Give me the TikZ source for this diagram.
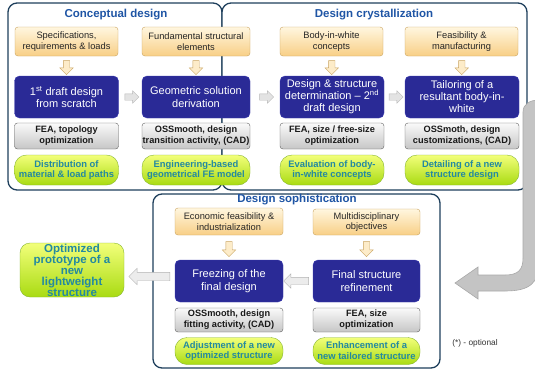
\documentclass[tikz,border=0pt]{standalone}
\usepackage{fontspec}
\setmainfont{Liberation Sans}
\usetikzlibrary{shapes.arrows,calc}
\definecolor{navyC}{HTML}{2A2A96}
\definecolor{navyD}{HTML}{3A3AB0}
\definecolor{frameC}{HTML}{1E3F5C}
\definecolor{titleC}{HTML}{1F55A5}
\definecolor{beigeT}{HTML}{FFF6DF}
\definecolor{beigeB}{HTML}{F8CF86}
\definecolor{beigeD}{HTML}{C9A35E}
\definecolor{greenT}{HTML}{F2FF7A}
\definecolor{greenB}{HTML}{A9DB12}
\definecolor{greenD}{HTML}{86B530}
\definecolor{greenTxt}{HTML}{2389A0}
\definecolor{bandC}{HTML}{C4C4C4}
\definecolor{bandD}{HTML}{A8A8A8}
\begin{document}
\begin{tikzpicture}[x=1pt,y=-1pt,
  frame/.style={draw=frameC, line width=1.3pt, rounded corners=9pt, fill=white},
  ttl/.style={font=\bfseries\fontsize{11.5}{13}\selectfont, text=titleC},
  beige/.style={draw=beigeD, rounded corners=3pt, top color=beigeT, bottom color=beigeB, align=center, inner sep=0pt, font=\fontsize{9.3}{10.5}\selectfont, text=black!85},
  bluebox/.style={draw=navyD, fill=navyC, rounded corners=5pt, text=white, align=center, inner sep=0pt, font=\fontsize{11}{12.5}\selectfont},
  graybox/.style={draw=gray!75!black, rounded corners=3pt, top color=white!96!gray, bottom color=gray!45, align=center, inner sep=0pt, font=\bfseries\fontsize{9.2}{11}\selectfont, text=black!90},
  greenbox/.style={draw=greenD, rounded corners=12pt, top color=greenT, bottom color=greenB, align=center, inner sep=0pt, font=\bfseries\fontsize{9.4}{10.8}\selectfont, text=greenTxt},
  downarr/.style={single arrow, draw=beigeD, fill=beigeT!75!beigeB, shape border rotate=270, minimum height=14pt, single arrow head extend=3.5pt, inner sep=3pt},
  smallarr/.style={single arrow, draw=gray!55, fill=gray!22, minimum height=14pt, single arrow head extend=3pt, inner sep=3pt},
  leftarr/.style={single arrow, draw=gray!60, fill=gray!15, shape border rotate=180, single arrow head extend=4pt, inner sep=4pt}
]
\useasboundingbox (0,0) rectangle (535,370);

% frames
\node[frame, minimum width=214pt, minimum height=187pt] (fr1) at (115,96.5) {};
\node[frame, minimum width=305pt, minimum height=187pt] (fr2) at (374.5,96.5) {};
\node[frame, minimum width=287pt, minimum height=174pt] (fr3) at (296.5,281) {};

\node[ttl] (t1) at (116,15) {Conceptual design};
\node[ttl] (t2) at (374,15) {Design crystallization};
\node[ttl] (t3) at (297,200) {Design sophistication};

% top row inputs
\node[beige, minimum width=103pt, minimum height=29pt] (c1) at (66.5,41.5) {Specifications,\\requirements \& loads};
\node[beige, minimum width=108pt, minimum height=29pt] (c2) at (196,41.5) {Fundamental structural\\elements};
\node[beige, minimum width=103pt, minimum height=29pt] (c3) at (331.5,41.5) {Body-in-white\\concepts};
\node[beige, minimum width=113pt, minimum height=29pt] (c4) at (461.5,41.5) {Feasibility \&\\manufacturing};

% blue boxes
\node[bluebox, minimum width=104pt, minimum height=42pt] (b1) at (66.5,97) {1\textsuperscript{st} draft design\\from scratch};
\node[bluebox, minimum width=108pt, minimum height=42pt] (b2) at (196,97) {Geometric solution\\derivation};
\node[bluebox, minimum width=104pt, minimum height=42pt, font=\fontsize{11}{12}\selectfont] (b3) at (332,97) {Design \& structure\\determination -- 2\textsuperscript{nd}\\draft design};
\node[bluebox, minimum width=114pt, minimum height=42pt, font=\fontsize{11}{12}\selectfont] (b4) at (462,97) {Tailoring of a\\resultant body-in-\\white};

% gray boxes
\node[graybox, minimum width=104pt, minimum height=26pt] (g1) at (66.5,136) {FEA, topology\\optimization};
\node[graybox, minimum width=108pt, minimum height=26pt] (g2) at (196,136) {OSSmooth, design\\transition activity, (CAD)};
\node[graybox, minimum width=104pt, minimum height=26pt] (g3) at (332,136) {FEA, size / free-size\\optimization};
\node[graybox, minimum width=114pt, minimum height=26pt] (g4) at (462,136) {OSSmoth, design\\customizations, (CAD)};

% green pills
\node[greenbox, minimum width=104pt, minimum height=30pt] (r1) at (66.5,170) {Distribution of\\material \& load paths};
\node[greenbox, minimum width=108pt, minimum height=30pt] (r2) at (196,170) {Engineering-based\\geometrical FE model};
\node[greenbox, minimum width=104pt, minimum height=30pt] (r3) at (332,170) {Evaluation of body-\\in-white concepts};
\node[greenbox, minimum width=114pt, minimum height=30pt] (r4) at (462,170) {Detailing of a new\\structure design};

% arrows top
\node[downarr] (d1) at ($(c1.south)!0.5!(b1.north)$) {};
\node[downarr] (d2) at ($(c2.south)!0.5!(b2.north)$) {};
\node[downarr] (d3) at ($(c3.south)!0.5!(b3.north)$) {};
\node[downarr] (d4) at ($(c4.south)!0.5!(b4.north)$) {};
\node[smallarr] (s1) at ($(b1.east)!0.5!(b2.west)$) {};
\node[smallarr] (s2) at ($(b2.east)!0.5!(b3.west)$) {};
\node[smallarr] (s3) at ($(b3.east)!0.5!(b4.west)$) {};

% bottom section
\node[beige, minimum width=108pt, minimum height=27pt] (e1) at (229,221.5) {Economic feasibility \&\\industrialization};
\node[beige, minimum width=107pt, minimum height=26pt] (e2) at (366.5,222) {Multidisciplinary\\objectives};
\node[bluebox, minimum width=108pt, minimum height=42pt] (f1) at (229,281) {Freezing of the\\final design};
\node[bluebox, minimum width=107pt, minimum height=42pt] (f2) at (366.5,281) {Final structure\\refinement};
\node[graybox, minimum width=108pt, minimum height=24pt] (h1) at (229,320) {OSSmooth, design\\fitting activity, (CAD)};
\node[graybox, minimum width=107pt, minimum height=24pt] (h2) at (366.5,320) {FEA, size\\optimization};
\node[greenbox, minimum width=108pt, minimum height=27pt] (q1) at (229,351) {Adjustment of a new\\optimized structure};
\node[greenbox, minimum width=107pt, minimum height=27pt] (q2) at (366.5,351) {Enhancement of a\\new tailored structure};

\node[downarr, minimum height=15pt] (d5) at ($(e1.south)!0.5!(f1.north)$) {};
\node[downarr, minimum height=15pt] (d6) at ($(e2.south)!0.5!(f2.north)$) {};

% result box
\node[greenbox, rounded corners=10pt, minimum width=104pt, minimum height=54pt, font=\bfseries\fontsize{11.5}{11}\selectfont] (opt) at (72,270) {Optimized\\prototype of a\\new\\lightweight\\structure};

\node[leftarr, minimum height=25pt, inner sep=3.5pt, single arrow head extend=3.5pt] (l1) at ($(f2.west)!0.5!(f1.east)$) {};
\node[leftarr, minimum height=41pt] (l2) at ($(f1.west)!0.5!(opt.east)+(2,1)$) {};

% big return arrow
\fill[bandC, draw=bandD, line width=0.6pt]
  (539,100) -- (539,262) .. controls (539,283) and (530,291) .. (505,291)
  -- (478,291) -- (478,299) -- (455,283) -- (478,267) -- (478,275)
  -- (505,275) .. controls (518,275) and (523,270) .. (523,258)
  -- (523,112) .. controls (523,104) and (530,100) .. (539,100) -- cycle;

\node[font=\fontsize{8.3}{9}\selectfont, text=black!80] (note) at (475,343) {(*) - optional};
\end{tikzpicture}
\end{document}
